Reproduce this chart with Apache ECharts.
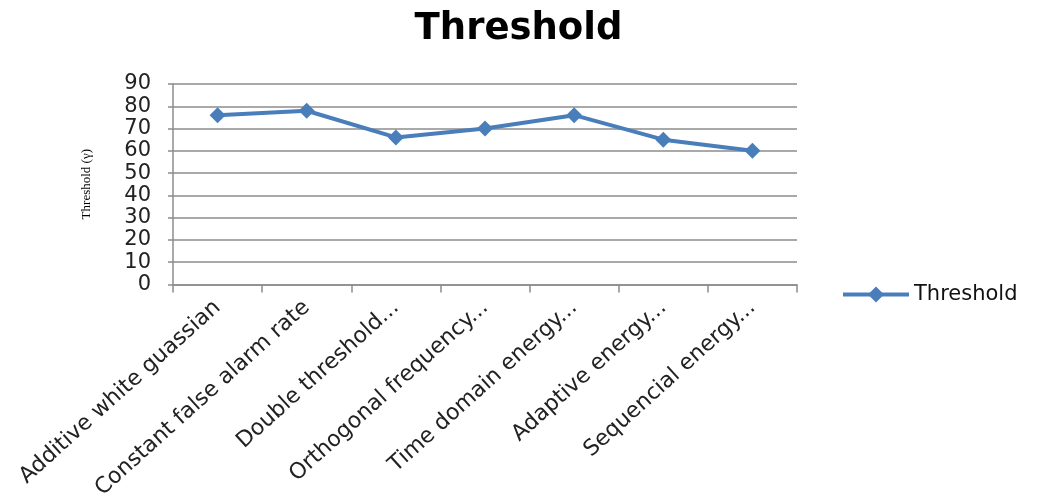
<!DOCTYPE html>
<html>
<head>
<meta charset="utf-8">
<script src="https://cdn.jsdelivr.net/npm/echarts@6/dist/echarts.min.js"></script>
<style>
  html, body { margin: 0; padding: 0; background: #fff; }
  #chart { width: 1037px; height: 502px; }
</style>
</head>
<body>
<div id="chart"></div>
<script>
// Detection methods (as labelled on the axis) and their thresholds
const categories = [
  'Additive white guassian',
  'Constant false alarm rate',
  'Double threshold...',
  'Orthogonal frequency...',
  'Time domain energy...',
  'Adaptive energy...',
  'Sequencial energy...'
];
const thresholdValues = [76, 78, 66, 70, 76, 65, 60];
const seriesName = 'Threshold';

const axisGray = '#8c8c8c';
const lineBlue = '#4a7ebb';
const sans = 'DejaVu Sans';

const chart = echarts.init(document.getElementById('chart'), null, { renderer: 'canvas' });
chart.setOption({
  animation: false,
  backgroundColor: '#ffffff',
  title: {
    text: 'Threshold',
    left: 'center',
    top: 6,
    textStyle: { fontFamily: sans, fontWeight: 'bold', fontSize: 37, color: '#000' }
  },
  legend: {
    data: [seriesName],
    left: 836,
    top: 279,
    itemWidth: 66,
    itemHeight: 20,
    itemGap: 4,
    lineStyle: { width: 4 },
    textStyle: { fontFamily: sans, fontSize: 21, color: '#111' }
  },
  grid: { left: 173, right: 240, top: 84, bottom: 215, containLabel: false },
  xAxis: {
    type: 'category',
    data: categories,
    boundaryGap: true,
    axisLine: { lineStyle: { color: axisGray, width: 1.5 } },
    axisTick: { show: true, alignWithLabel: false, length: 8, lineStyle: { color: axisGray, width: 1.5 } },
    axisLabel: {
      rotate: 42,
      interval: 0,
      margin: 20,
      fontFamily: sans,
      fontSize: 22,
      color: '#222'
    }
  },
  yAxis: {
    type: 'value',
    min: 0,
    max: 90,
    interval: 10,
    name: 'Threshold (\u03B3)',
    nameLocation: 'middle',
    nameGap: 80,
    nameTextStyle: { fontFamily: 'Liberation Serif', fontSize: 13, color: '#000' },
    axisLine: { show: true, lineStyle: { color: axisGray, width: 1.5 } },
    axisTick: { show: true, length: 5, lineStyle: { color: axisGray, width: 1.5 } },
    axisLabel: { fontFamily: sans, fontSize: 21, color: '#222', margin: 22 },
    splitLine: { lineStyle: { color: axisGray, width: 1.5 } }
  },
  series: [{
    name: seriesName,
    type: 'line',
    data: thresholdValues,
    symbol: 'diamond',
    symbolSize: 16,
    lineStyle: { color: lineBlue, width: 4 },
    itemStyle: { color: lineBlue }
  }]
});
</script>
</body>
</html>
